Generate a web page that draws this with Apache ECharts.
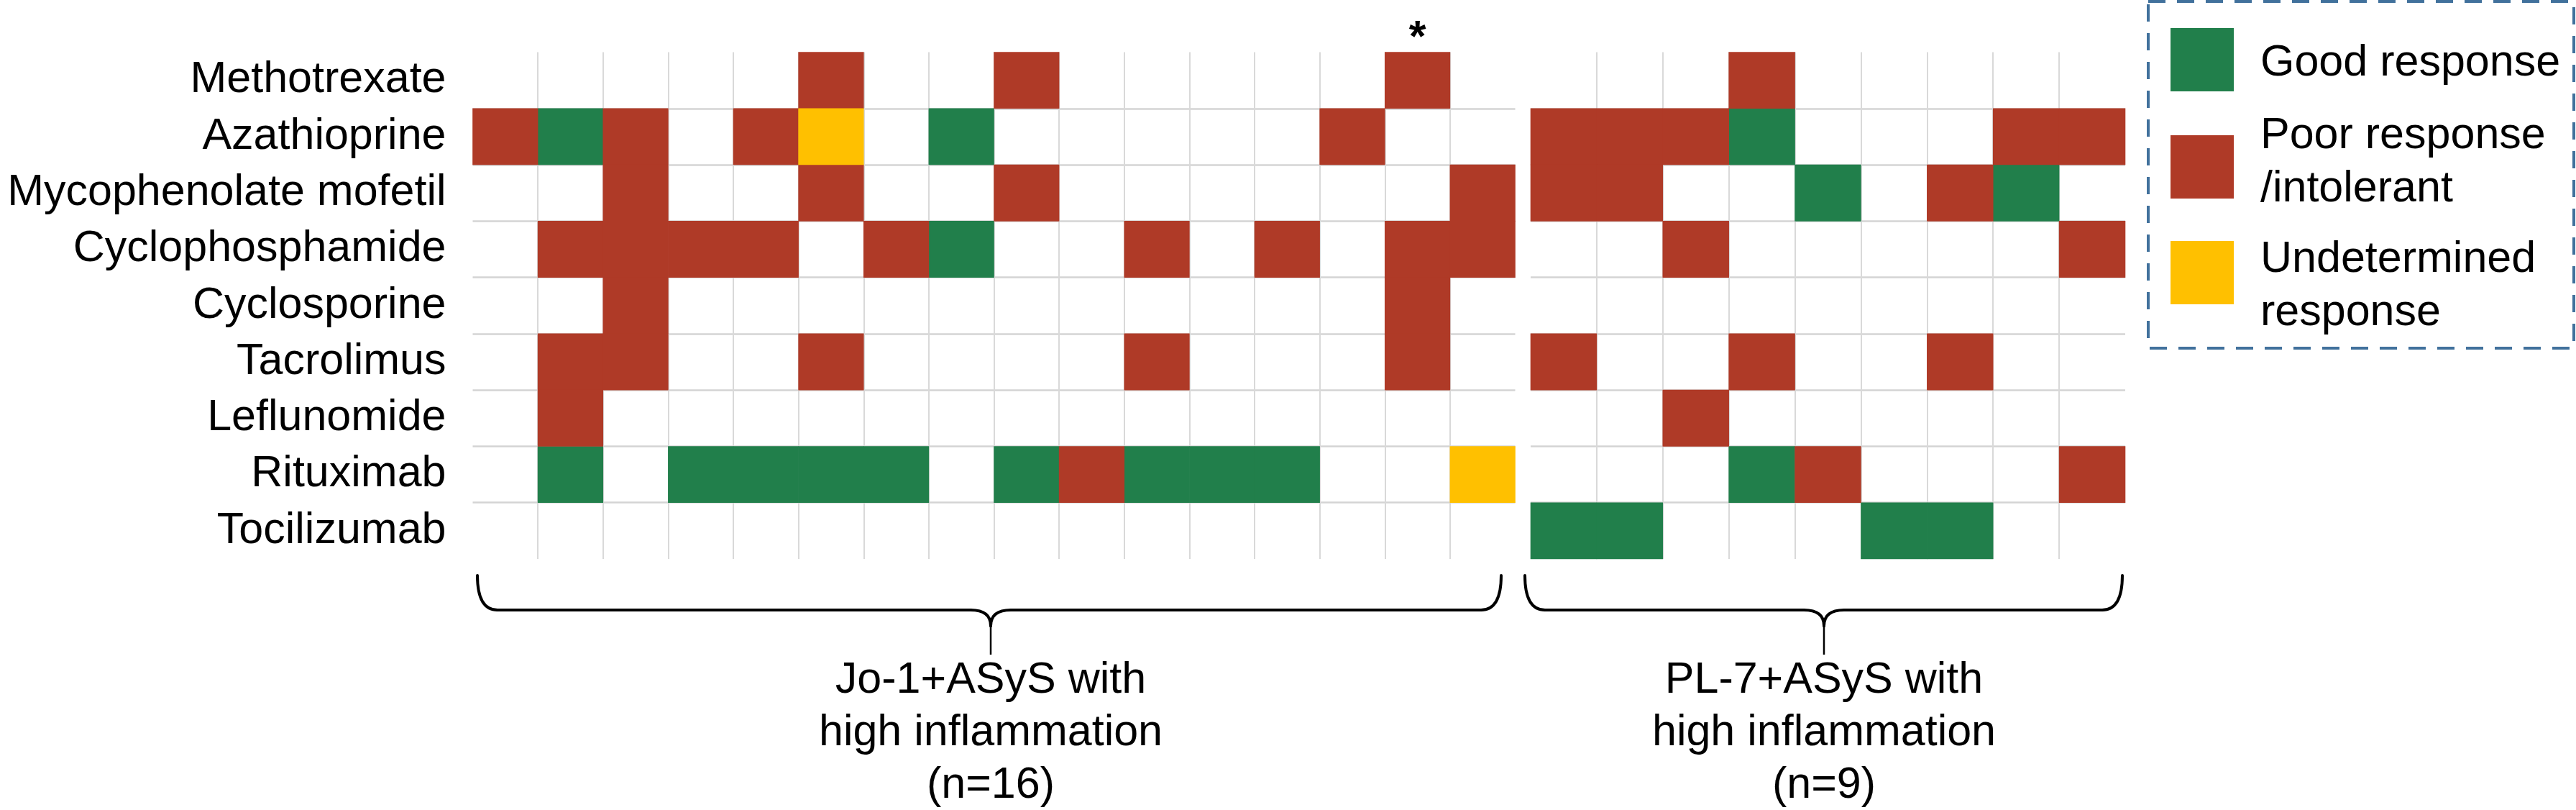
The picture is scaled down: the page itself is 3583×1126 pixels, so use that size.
<!DOCTYPE html>
<html>
<head>
<meta charset="utf-8">
<title>Treatment response in ASyS with high inflammation</title>
<script src="https://cdn.jsdelivr.net/npm/echarts@6/dist/echarts.min.js"></script>
<style>
    html, body { margin: 0; padding: 0; background: #fff; }
    #chart { width: 3583px; height: 1126px; }
</style>
</head>
<body>
<div id="chart"></div>
<script>
// drugs, top to bottom
var drugs = ['Methotrexate', 'Azathioprine', 'Mycophenolate mofetil', 'Cyclophosphamide',
    'Cyclosporine', 'Tacrolimus', 'Leflunomide', 'Rituximab', 'Tocilizumab'];

// response codes: 0 = not given, 1 = good, 2 = poor/intolerant, 3 = undetermined
var responseNames = ['Good response', 'Poor response\n/intolerant', 'Undetermined\nresponse'];
var responseColors = ['#217F4B', '#AF3A27', '#FFC000'];

// Jo-1+ASyS patients, one column each
var jo1Patients = ['1', '2', '3', '4', '5', '6', '7', '8', '9', '10', '11', '12', '13', '14', '15', '16'];
var jo1Responses = [
    [0, 0, 0, 0, 0, 2, 0, 0, 2, 0, 0, 0, 0, 0, 2, 0],
    [2, 1, 2, 0, 2, 3, 0, 1, 0, 0, 0, 0, 0, 2, 0, 0],
    [0, 0, 2, 0, 0, 2, 0, 0, 2, 0, 0, 0, 0, 0, 0, 2],
    [0, 2, 2, 2, 2, 0, 2, 1, 0, 0, 2, 0, 2, 0, 2, 2],
    [0, 0, 2, 0, 0, 0, 0, 0, 0, 0, 0, 0, 0, 0, 2, 0],
    [0, 2, 2, 0, 0, 2, 0, 0, 0, 0, 2, 0, 0, 0, 2, 0],
    [0, 2, 0, 0, 0, 0, 0, 0, 0, 0, 0, 0, 0, 0, 0, 0],
    [0, 1, 0, 1, 1, 1, 1, 0, 1, 2, 1, 1, 1, 0, 0, 3],
    [0, 0, 0, 0, 0, 0, 0, 0, 0, 0, 0, 0, 0, 0, 0, 0]
];
var jo1Starred = [14];   // patient columns marked with *

// PL-7+ASyS patients
var pl7Patients = ['1', '2', '3', '4', '5', '6', '7', '8', '9'];
var pl7Responses = [
    [0, 0, 0, 2, 0, 0, 0, 0, 0],
    [2, 2, 2, 1, 0, 0, 0, 2, 2],
    [2, 2, 0, 0, 1, 0, 2, 1, 0],
    [0, 0, 2, 0, 0, 0, 0, 0, 2],
    [0, 0, 0, 0, 0, 0, 0, 0, 0],
    [2, 0, 0, 2, 0, 0, 2, 0, 0],
    [0, 0, 2, 0, 0, 0, 0, 0, 0],
    [0, 0, 0, 1, 2, 0, 0, 0, 2],
    [1, 1, 0, 0, 0, 1, 1, 0, 0]
];

var groupTitles = ['Jo-1+ASyS with\nhigh inflammation\n(n=16)', 'PL-7+ASyS with\nhigh inflammation\n(n=9)'];

var FONT = '"Liberation Sans", Arial, Helvetica, sans-serif';
var FONT_SIZE = 61;
var TOP = 72.5, HEIGHT = 704.5;

function cellsOf(matrix, code) {
    var out = [];
    for (var i = 0; i < matrix.length; i++) {
        for (var j = 0; j < matrix[i].length; j++) {
            if (matrix[i][j] === code) out.push([j, i]);
        }
    }
    return out;
}

function renderCell(params, api) {
    var c = api.coord([api.value(0), api.value(1)]);
    var s = api.size([1, 1]);
    return {
        type: 'rect',
        shape: { x: c[0] - s[0] / 2 - 0.3, y: c[1] - s[1] / 2 - 0.3, width: s[0] + 0.6, height: s[1] + 0.6 },
        style: api.style()
    };
}

function xAxisOf(gridIndex, cats) {
    return {
        type: 'category', gridIndex: gridIndex, data: cats,
        axisLine: { show: false }, axisTick: { show: false }, axisLabel: { show: false },
        splitLine: {
            show: true, interval: 0, showMinLine: false, showMaxLine: false,
            lineStyle: { color: '#D9D9D9', width: 2 }
        }
    };
}

function yAxisOf(gridIndex, showLabels) {
    return {
        type: 'category', gridIndex: gridIndex, data: drugs, inverse: true,
        axisLine: { show: false }, axisTick: { show: false },
        axisLabel: {
            show: showLabels, interval: 0, margin: 37,
            color: '#000', fontSize: FONT_SIZE, fontFamily: FONT
        },
        splitLine: {
            show: true, interval: 0, showMinLine: false, showMaxLine: false,
            lineStyle: { color: '#D4D4D4', width: 2.5 }
        }
    };
}

var series = [];
[jo1Responses, pl7Responses].forEach(function (matrix, g) {
    for (var r = 1; r <= 3; r++) {
        series.push({
            type: 'custom',
            name: responseNames[r - 1],
            xAxisIndex: g, yAxisIndex: g,
            renderItem: renderCell,
            itemStyle: { color: responseColors[r - 1] },
            encode: { x: 0, y: 1 },
            data: cellsOf(matrix, r),
            z: 3
        });
    }
});

var chart = echarts.init(document.getElementById('chart'));
chart.setOption({
    backgroundColor: '#fff',
    animation: false,
    grid: [
        { left: 657.5, top: TOP, width: 1450, height: HEIGHT },
        { left: 2129, top: TOP, width: 827, height: HEIGHT }
    ],
    xAxis: [xAxisOf(0, jo1Patients), xAxisOf(1, pl7Patients)],
    yAxis: [yAxisOf(0, true), yAxisOf(1, false)],
    series: series
});

// annotations: braces, group titles, asterisk, legend box
var graphics = [];

function addBrace(x0, x1, xm, yTop, yMid, yTip) {
    var r = 28, d = 22;
    var st = { stroke: '#000', lineWidth: 4, fill: null, lineCap: 'round' };
    graphics.push(
        { type: 'bezierCurve', shape: { x1: x0, y1: yTop, cpx1: x0, cpy1: yMid, x2: x0 + r, y2: yMid }, style: st },
        { type: 'line', shape: { x1: x0 + r, y1: yMid, x2: xm - r, y2: yMid }, style: st },
        { type: 'bezierCurve', shape: { x1: xm - r, y1: yMid, cpx1: xm, cpy1: yMid, x2: xm, y2: yMid + d }, style: st },
        { type: 'bezierCurve', shape: { x1: xm + r, y1: yMid, cpx1: xm, cpy1: yMid, x2: xm, y2: yMid + d }, style: st },
        { type: 'line', shape: { x1: xm, y1: yMid + d, x2: xm, y2: yTip }, style: { stroke: '#000', lineWidth: 2.5 } },
        { type: 'line', shape: { x1: xm + r, y1: yMid, x2: x1 - r, y2: yMid }, style: st },
        { type: 'bezierCurve', shape: { x1: x1 - r, y1: yMid, cpx1: x1, cpy1: yMid, x2: x1, y2: yTop }, style: st }
    );
}
addBrace(664, 2088, 1378, 800, 848, 910);
addBrace(2121, 2952, 2537, 800, 848, 910);

[1378, 2537].forEach(function (cx, g) {
    graphics.push({
        type: 'text',
        style: {
            text: groupTitles[g], x: cx, y: 910,
            textAlign: 'center', textVerticalAlign: 'top',
            font: FONT_SIZE + 'px ' + FONT, lineHeight: 73, fill: '#000'
        }
    });
});

jo1Starred.forEach(function (col) {
    var p = chart.convertToPixel({ xAxisIndex: 0, yAxisIndex: 0 }, [col, 0]);
    graphics.push({
        type: 'text',
        style: {
            text: '*', x: p[0], y: 54,
            textAlign: 'center', textVerticalAlign: 'middle',
            font: 'bold ' + FONT_SIZE + 'px ' + FONT, fill: '#000'
        }
    });
});

// legend
graphics.push({
    type: 'rect',
    shape: { x: 2988, y: 2, width: 592, height: 482 },
    style: { fill: null, stroke: '#41719C', lineWidth: 4, lineDash: [24, 16] }
});
var swatchCenters = [83, 232, 379];
var textCenters = [88, 226, 398];
responseNames.forEach(function (name, i) {
    graphics.push({
        type: 'rect',
        shape: { x: 3019, y: swatchCenters[i] - 44, width: 88, height: 88 },
        style: { fill: responseColors[i] }
    });
    graphics.push({
        type: 'text',
        style: {
            text: name, x: 3144, y: textCenters[i],
            textAlign: 'left', textVerticalAlign: 'middle',
            font: FONT_SIZE + 'px ' + FONT, lineHeight: 74, fill: '#000'
        }
    });
});

chart.setOption({ graphic: graphics });
</script>
</body>
</html>
